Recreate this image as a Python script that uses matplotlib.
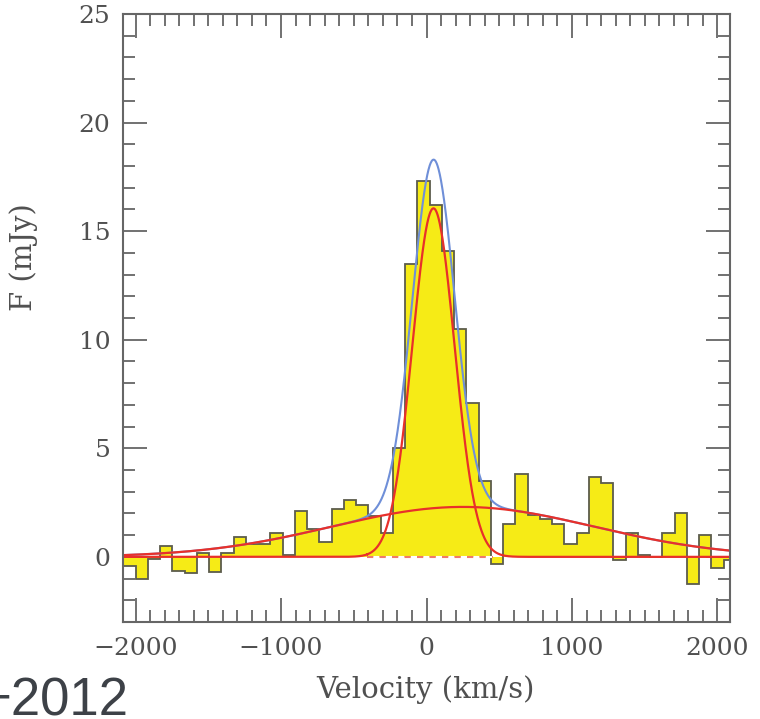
import numpy as np
import matplotlib.pyplot as plt
from matplotlib.ticker import MultipleLocator

# channel grid (km/s) and measured flux per channel (mJy)
chan_start = -2084.2
chan_width = 84.2
flux = [-0.4, -1.0, -0.1, 0.5, -0.65, -0.75, 0.2, -0.7, 0.2, 0.9,
        0.6, 0.6, 1.1, 0.1, 2.1, 1.3, 0.7, 2.2, 2.6, 2.4,
        1.9, 1.1, 5.0, 13.5, 17.3, 16.2, 14.1, 10.5, 7.1, 3.5,
        -0.35, 1.5, 3.8, 1.95, 1.75, 1.5, 0.6, 1.1, 3.7, 3.4,
        -0.15, 1.1, 0.1, 0.0, 1.1, 2.0, -1.25, 1.0, -0.5, -0.15]

# two-component gaussian fit: amplitude (mJy), centre (km/s), sigma (km/s)
narrow = [16.05, 48.0, 145.0]
broad = [2.3, 250.0, 900.0]

# stretch of the zero level under the line drawn dashed
dash_lo, dash_hi = -410.0, 455.0

yellow = '#f6eb16'
red = '#e8302a'
blue = '#6f8fd8'
frame = '#666666'
text_col = '#505050'

def gauss(v, p):
    return p[0] * np.exp(-(v - p[1])**2 / (2 * p[2]**2))

edges = chan_start + chan_width * np.arange(len(flux) + 1)
v = np.linspace(-2100, 2100, 2000)
f_narrow = gauss(v, narrow)
f_broad = gauss(v, broad)

# the narrow component is left out along the dashed zero segment
inside = (v > dash_lo) & (v < dash_hi) & (f_narrow < 0.12)
f_narrow_draw = np.where(inside, np.nan, f_narrow)

fig = plt.figure(figsize=(7.6, 7.19), dpi=100)
ax = fig.add_axes([123/760, 1 - 622/719, 607/760, 608/719])

ax.stairs(flux, edges, baseline=0, fill=True, color=yellow, lw=0)
ax.stairs(flux, edges, baseline=0, color='#5c5c4c', lw=1.3)

ax.plot(v, f_narrow + f_broad, color=blue, lw=1.5)
ax.plot(v, f_broad, color=red, lw=1.6)
ax.plot(v, f_narrow_draw, color=red, lw=1.6)
ax.plot([dash_lo, dash_hi], [0, 0], color='#f07a6a', lw=1.5,
        linestyle=(0, (3, 3)), gapcolor='white')

ax.set_xlim(-2086, 2086)
ax.set_ylim(-3, 25)
ax.xaxis.set_major_locator(MultipleLocator(1000))
ax.xaxis.set_minor_locator(MultipleLocator(100))
ax.yaxis.set_major_locator(MultipleLocator(5))
ax.yaxis.set_minor_locator(MultipleLocator(1))
ax.tick_params(which='both', direction='in', top=True, right=True,
               color=frame, width=1.3, labelcolor=text_col,
               labelsize=18, labelfontfamily='DejaVu Serif')
ax.tick_params(which='major', length=17)
ax.tick_params(which='minor', length=8.5)
ax.tick_params(axis='x', pad=11)
ax.tick_params(axis='y', pad=9)
for s in ax.spines.values():
    s.set_color(frame)
    s.set_linewidth(1.5)

fig.text(425/760, 1 - 690/719, 'Velocity (km/s)', ha='center', va='center',
         fontsize=21, family='DejaVu Serif', color=text_col)
fig.text(24/760, 1 - 257/719, 'F (mJy)', ha='center', va='center',
         rotation=90, fontsize=21, family='DejaVu Serif', color=text_col)
fig.text(128/760, 1 - 716/719, '+2012', ha='right', va='baseline',
         fontsize=38, family='Liberation Sans', color='#3d4147')

fig.savefig('out.png', dpi=100)
